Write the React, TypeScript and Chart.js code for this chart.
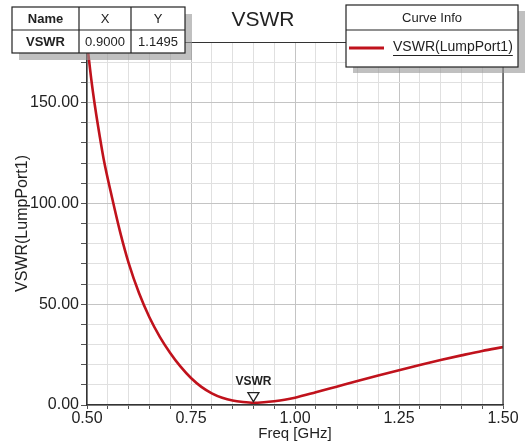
import React, { useEffect, useRef } from "react";
import { Chart, registerables } from "chart.js";

Chart.register(...registerables);

// ---- data ----
const freqs = [0.5, 0.51, 0.52, 0.53, 0.54, 0.56, 0.58, 0.6, 0.625, 0.65, 0.675, 0.7, 0.725, 0.75, 0.775, 0.8, 0.825, 0.85, 0.875, 0.9, 0.925, 0.95, 0.975, 1.0, 1.05, 1.1, 1.15, 1.2, 1.25, 1.3, 1.35, 1.4, 1.45, 1.5];
const vswr = [180, 162, 147, 134, 122, 103, 85.5, 70.5, 55.5, 43.5, 33.8, 25.8, 19, 13.4, 9, 5.8, 3.6, 2.2, 1.5, 1.15, 1.4, 1.9, 2.6, 3.6, 6.3, 9.1, 11.9, 14.6, 17.2, 19.8, 22.3, 24.6, 26.8, 28.7];
const xLabelValues = [0.5, 0.75, 1.0, 1.25, 1.5];
const yLabelValues = [0, 50, 100, 150];
const tableHeader = ["Name", "X", "Y"];
const tableRow = ["VSWR", "0.9000", "1.1495"];
const markerName = "VSWR";
const markerX = 0.9;
const markerY = 1.1495;
const seriesName = "VSWR(LumpPort1)";
const chartTitle = "VSWR";
const xTitle = "Freq [GHz]";
const yTitle = "VSWR(LumpPort1)";

const FONT = "'Liberation Sans', Arial, sans-serif";
const CURVE = "#c0121c";
const TEXT = "#222222";

const isLabel = (v: number, list: number[]) => list.some((l) => Math.abs(l - v) < 1e-6);

const overlay = {
  id: "overlay",
  afterDraw(chart: any) {
    const ctx = chart.ctx as CanvasRenderingContext2D;
    const a = chart.chartArea;
    ctx.save();
    // top and right border of the plot
    ctx.strokeStyle = "#333";
    ctx.lineWidth = 1.2;
    ctx.beginPath();
    ctx.moveTo(a.left, a.top + 0.5);
    ctx.lineTo(a.right, a.top + 0.5);
    ctx.lineTo(a.right, a.bottom);
    ctx.stroke();

    // marker
    const mx = chart.scales.x.getPixelForValue(markerX);
    const my = chart.scales.y.getPixelForValue(markerY);
    ctx.strokeStyle = "#222";
    ctx.lineWidth = 1.3;
    ctx.fillStyle = "#ffffff";
    ctx.beginPath();
    ctx.moveTo(mx, my - 1);
    ctx.lineTo(mx - 5.5, my - 10);
    ctx.lineTo(mx + 5.5, my - 10);
    ctx.closePath();
    ctx.fill();
    ctx.stroke();
    ctx.fillStyle = TEXT;
    ctx.font = `bold 12px ${FONT}`;
    ctx.textAlign = "center";
    ctx.textBaseline = "middle";
    ctx.fillText(markerName, mx, my - 21);

    // title
    ctx.font = `21px ${FONT}`;
    ctx.fillStyle = TEXT;
    ctx.fillText(chartTitle, 263, 20);

    // table
    const tx = 12, ty = 7, tw = 173, rh = 23;
    const cols = [12, 79, 131, 185];
    ctx.fillStyle = "rgba(150,150,150,0.6)";
    ctx.fillRect(tx + 7, ty + 7, tw, rh * 2);
    ctx.fillStyle = "#ffffff";
    ctx.fillRect(tx, ty, tw, rh * 2);
    ctx.strokeStyle = "#222";
    ctx.lineWidth = 1.2;
    ctx.strokeRect(tx, ty, tw, rh * 2);
    ctx.beginPath();
    ctx.moveTo(tx, ty + rh);
    ctx.lineTo(tx + tw, ty + rh);
    for (let i = 1; i < cols.length - 1; i++) {
      ctx.moveTo(cols[i], ty);
      ctx.lineTo(cols[i], ty + rh * 2);
    }
    ctx.stroke();
    ctx.fillStyle = TEXT;
    for (let i = 0; i < 3; i++) {
      const cx = (cols[i] + cols[i + 1]) / 2;
      ctx.font = `${i === 0 ? "bold " : ""}13px ${FONT}`;
      ctx.fillText(tableHeader[i], cx, ty + rh / 2 + 1);
      ctx.fillText(tableRow[i], cx, ty + rh * 1.5 + 1);
    }

    // legend
    const lx = 346, ly = 5, lw = 172, lh = 62;
    ctx.fillStyle = "rgba(150,150,150,0.6)";
    ctx.fillRect(lx + 7, ly + 6, lw, lh);
    ctx.fillStyle = "#ffffff";
    ctx.fillRect(lx, ly, lw, lh);
    ctx.strokeStyle = "#222";
    ctx.strokeRect(lx, ly, lw, lh);
    ctx.beginPath();
    ctx.moveTo(lx, ly + 25);
    ctx.lineTo(lx + lw, ly + 25);
    ctx.stroke();
    ctx.fillStyle = TEXT;
    ctx.font = `13px ${FONT}`;
    ctx.fillText("Curve Info", lx + lw / 2, ly + 13);
    ctx.strokeStyle = CURVE;
    ctx.lineWidth = 3;
    ctx.beginPath();
    ctx.moveTo(349, 48);
    ctx.lineTo(384, 48);
    ctx.stroke();
    ctx.font = `14px ${FONT}`;
    ctx.textAlign = "left";
    ctx.fillStyle = TEXT;
    ctx.fillText(seriesName, 393, 47);
    const w = ctx.measureText(seriesName).width;
    ctx.strokeStyle = TEXT;
    ctx.lineWidth = 1;
    ctx.beginPath();
    ctx.moveTo(393, 55.5);
    ctx.lineTo(393 + w, 55.5);
    ctx.stroke();
    ctx.restore();
  },
};

export default function App() {
  const ref = useRef<HTMLCanvasElement>(null);
  useEffect(() => {
    if (!ref.current) return;
    const chart = new Chart(ref.current, {
      type: "line",
      data: {
        datasets: [
          {
            label: seriesName,
            data: freqs.map((f, i) => ({ x: f, y: vswr[i] })),
            borderColor: CURVE,
            borderWidth: 2.6,
            pointRadius: 0,
            cubicInterpolationMode: "monotone",
            fill: false,
          },
        ],
      },
      options: {
        responsive: false,
        animation: false,
        layout: { padding: { top: 42, right: 25, left: 0, bottom: 0 } },
        plugins: { legend: { display: false }, tooltip: { enabled: false }, title: { display: false } },
        scales: {
          x: {
            type: "linear",
            min: 0.5,
            max: 1.5,
            afterFit: (s: any) => { s.height = 40; },
            ticks: {
              stepSize: 0.05,
              autoSkip: false,
              maxRotation: 0,
              padding: 0,
              color: TEXT,
              font: { family: FONT, size: 16 },
              callback: (v: any) => (isLabel(Number(v), xLabelValues) ? Number(v).toFixed(2) : ""),
            },
            grid: {
              color: (c: any) => (c.tick && isLabel(c.tick.value, xLabelValues) ? "#c4c4c4" : "#e0e0e0"),
              tickColor: "#555",
              tickLength: 4,
              lineWidth: 1,
            },
            border: { color: "#333", width: 1.5 },
            title: {
              display: true,
              text: xTitle,
              color: TEXT,
              font: { family: FONT, size: 15 },
              padding: { top: 0, bottom: 2 },
            },
          },
          y: {
            min: 0,
            max: 180,
            afterFit: (s: any) => { s.width = 87; },
            ticks: {
              stepSize: 10,
              autoSkip: false,
              padding: 2,
              color: TEXT,
              font: { family: FONT, size: 16 },
              callback: (v: any) => (isLabel(Number(v), yLabelValues) ? Number(v).toFixed(2) : ""),
            },
            grid: {
              color: (c: any) => (c.tick && isLabel(c.tick.value, yLabelValues) ? "#c4c4c4" : "#e0e0e0"),
              tickColor: "#555",
              tickLength: 6,
              lineWidth: 1,
            },
            border: { color: "#333", width: 1.5 },
            title: {
              display: true,
              text: yTitle,
              color: TEXT,
              font: { family: FONT, size: 16 },
              padding: { top: 13, bottom: 0 },
            },
          },
        },
      },
      plugins: [overlay],
    });
    return () => chart.destroy();
  }, []);
  return (
    <div style={{ position: "fixed", left: 0, top: 0, width: 528, height: 445, background: "#fff" }}>
      <canvas ref={ref} width={528} height={445} style={{ display: "block" }} />
    </div>
  );
}
